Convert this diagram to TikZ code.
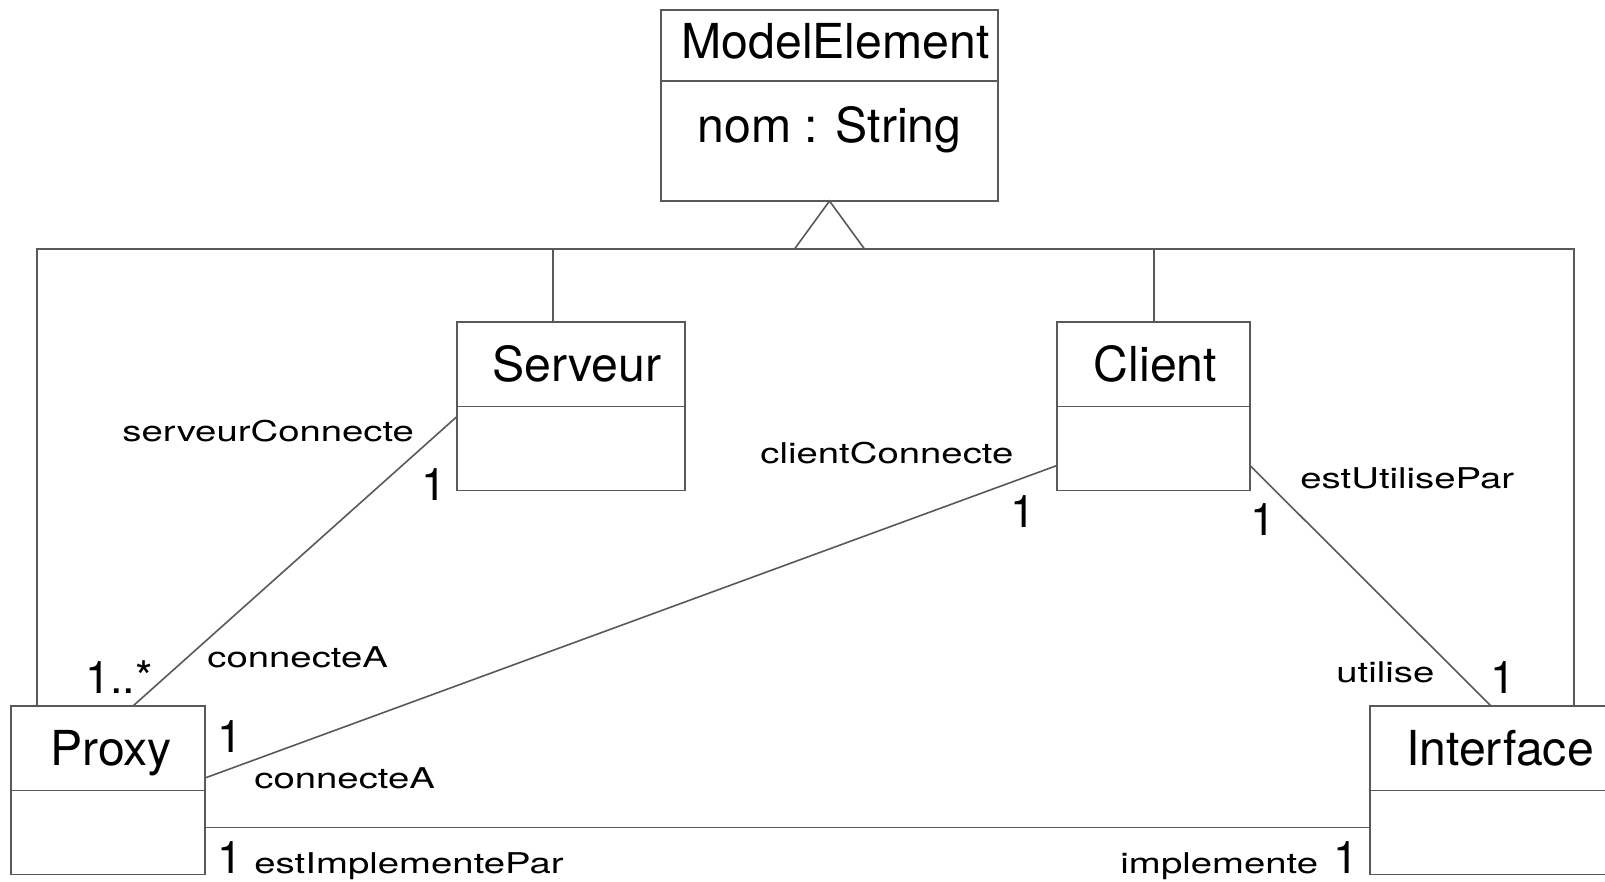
\documentclass[tikz,border=0pt]{standalone}
\usepackage{fontspec}
\setmainfont{TeX Gyre Heros}
\newfontfamily\rolefont[FakeStretch=1.34]{TeX Gyre Heros}
\usetikzlibrary{positioning,calc}

\begin{document}
\begin{tikzpicture}[x=0.5pt, y=-0.5pt,
  line/.style={draw=black!65, line width=0.8pt},
  cls/.style={line, anchor=north west, inner sep=0pt, outer sep=0pt,
    text height=29.75pt, text depth=12.5pt, font=\fontsize{24.1}{28}\selectfont},
  clsbody/.style={line, inner sep=0pt, outer sep=0pt, minimum height=42pt,
    font=\fontsize{24.1}{28}\selectfont},
  mult/.style={anchor=base west, inner sep=0pt, font=\fontsize{22.5}{26}\selectfont},
  role/.style={anchor=base west, inner sep=0pt, font=\rolefont\fontsize{14.3}{17}\selectfont}]

\useasboundingbox (0,0) rectangle (1605,882);

% classes
\node[cls, minimum width=168.5pt, text height=24.25pt, text depth=11.25pt] (me) at (661,10) {\hspace{6pt}ModelElement};
\node[clsbody, minimum width=168.5pt, text height=31pt, text depth=29pt, below=0pt of me] (mebody) {nom : String};
\node[cls, minimum width=114pt] (serveur) at (457,322) {\hspace{6pt}Serveur};
\node[clsbody, minimum width=114pt, below=0pt of serveur] (serveurbody) {};
\node[cls, minimum width=96.5pt] (client) at (1057,322) {\hspace{2pt}Client};
\node[clsbody, minimum width=96.5pt, below=0pt of client] (clientbody) {};
\node[cls, minimum width=97pt] (proxy) at (11,706) {\hspace{3pt}Proxy};
\node[clsbody, minimum width=97pt, below=0pt of proxy] (proxybody) {};
\node[cls, minimum width=130pt] (iface) at (1370,706) {Interface};
\node[clsbody, minimum width=130pt, below=0pt of iface] (ifacebody) {};

% generalisation
\draw[line, fill=white] (mebody.south) -- ++(-35,48) -- ++(70,0) -- cycle;
\coordinate (barL) at (37,249);
\coordinate (barR) at (1574,249);
\draw[line] (barL |- proxy.north) -- (barL) -- (barR) -- (barR |- iface.north);
\draw[line] (553,249) coordinate (toS) -- (toS |- serveur.north);
\draw[line] (1154,249) coordinate (toC) -- (toC |- client.north);

% associations
\draw[line] ($(serveurbody.north west)+(0,10)$) -- ($(proxy.north west)+(122,0)$);
\draw[line] ($(clientbody.north west)+(0,59)$) -- ($(proxy.north east)+(0,72)$);
\draw[line] ($(clientbody.north east)+(0,59)$) -- ($(iface.north west)+(121,0)$);
\draw[line] ($(proxybody.north east)+(0,37)$) coordinate (impl) -- (impl -| ifacebody.west);

% roles and multiplicities
\node[role] (rsc) at (122,441) {serveurConnecte};
\node[mult] (msc) at (421,500) {1};
\node[role] (rcc) at (760,463) {clientConnecte};
\node[mult] (mcc) at (1010,527) {1};
\node[role] (rup) at (1300,488) {estUtilisePar};
\node[mult] (mup) at (1250,535) {1};
\node[mult] (mca) at (85,693) {1..*};
\node[role] (rca) at (207,667) {connecteA};
\node[role] (rut) at (1336,682) {utilise};
\node[mult] (mut) at (1490,693) {1};
\node[mult] (mcb) at (217,752) {1};
\node[role] (rcb) at (254,788) {connecteA};
\node[mult] (mip) at (217,873) {1};
\node[role] (rip) at (254,873) {estImplementePar};
\node[role] (rim) at (1120,873) {implemente};
\node[mult] (mim) at (1333,873) {1};

\end{tikzpicture}
\end{document}
